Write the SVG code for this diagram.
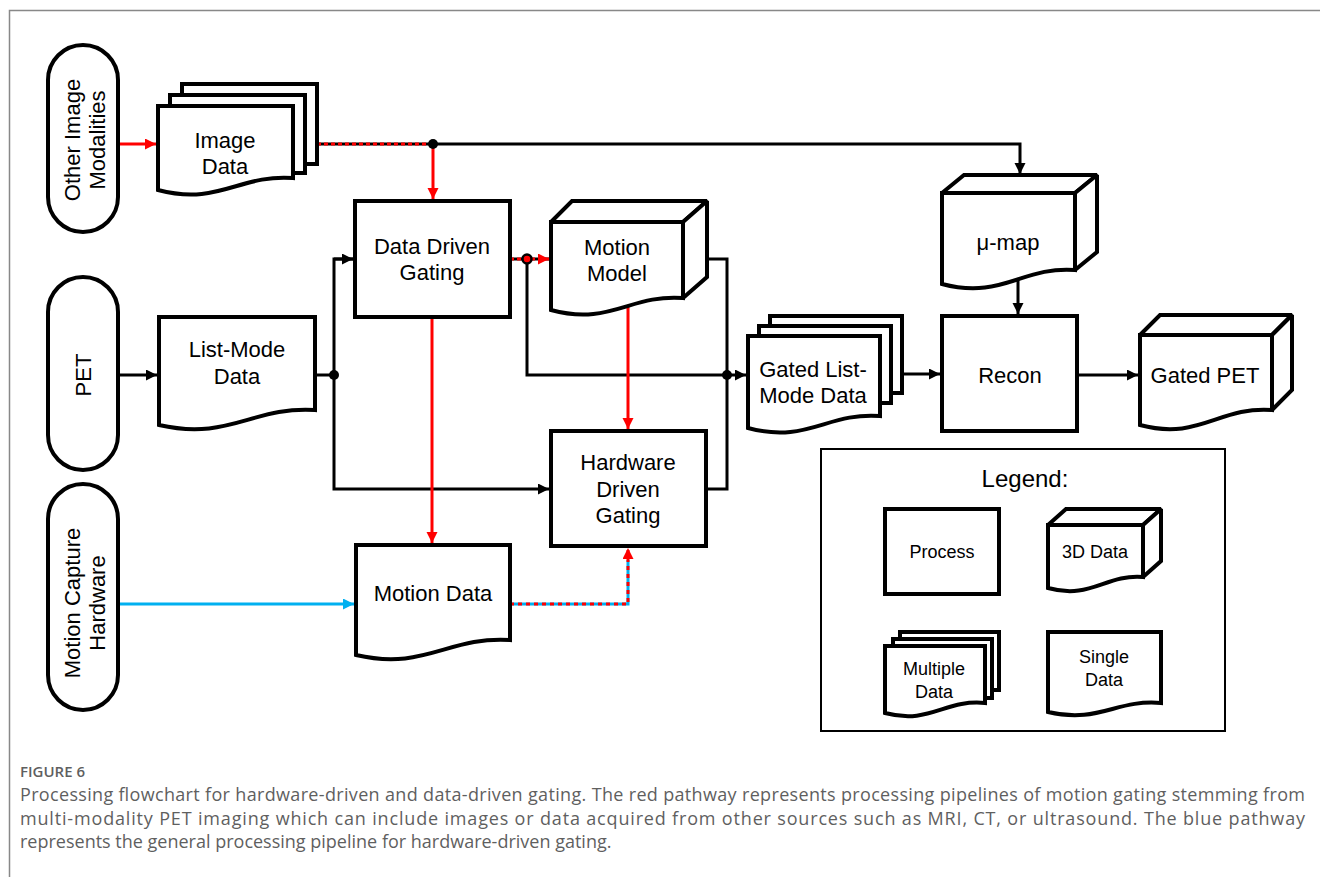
<svg xmlns="http://www.w3.org/2000/svg" width="1320" height="877" viewBox="0 0 1320 877">
<style>
.nd{fill:#fff;stroke:#000;stroke-width:4;stroke-linejoin:miter;stroke-miterlimit:2}
.t{font-family:"Liberation Sans",Arial,sans-serif;font-size:22px;fill:#000;text-anchor:middle}
.ts{font-family:"Liberation Sans",Arial,sans-serif;font-size:18px;fill:#000;text-anchor:middle}
.c{fill:none;stroke-width:3}
.k{stroke:#000}
.r{stroke:#ff0000}
.b{stroke:#00b0f0}
.rd{stroke:#ff0000;stroke-dasharray:4 3}
.cap{font-family:"Open Sans","Liberation Sans",sans-serif;font-size:18px;fill:#5f5f5f}
</style>
<defs>
<marker id="ak" markerUnits="userSpaceOnUse" markerWidth="12" markerHeight="12" refX="11" refY="5.5" orient="auto"><path d="M0,0 L11,5.5 L0,11 Z" fill="#000"/></marker>
<marker id="ar" markerUnits="userSpaceOnUse" markerWidth="12" markerHeight="12" refX="11" refY="5.5" orient="auto"><path d="M0,0 L11,5.5 L0,11 Z" fill="#ff0000"/></marker>
<marker id="ab" markerUnits="userSpaceOnUse" markerWidth="12" markerHeight="12" refX="11" refY="5.5" orient="auto"><path d="M0,0 L11,5.5 L0,11 Z" fill="#00b0f0"/></marker>
</defs>
<rect width="1320" height="877" fill="#fff"/>
<path d="M9.5,877 V10.5 H1320" fill="none" stroke="#888" stroke-width="1.5"/>

<g id="connectors">
<line class="c r" x1="118" y1="144" x2="156" y2="144" marker-end="url(#ar)"/>
<line class="c k" x1="317" y1="144" x2="433" y2="144"/>
<line class="c rd" x1="317" y1="144" x2="433" y2="144"/>
<path class="c k" d="M433,144 H1020 V174" marker-end="url(#ak)"/>
<line class="c r" x1="433" y1="144" x2="433" y2="199" marker-end="url(#ar)"/>
<line class="c k" x1="118" y1="375" x2="157" y2="375" marker-end="url(#ak)"/>
<line class="c k" x1="315" y1="375" x2="334" y2="375"/>
<path class="c k" d="M353,259 H334 V489 H549" marker-end="url(#ak)"/>
<line class="c k" x1="334" y1="259" x2="353" y2="259" marker-end="url(#ak)"/>
<line class="c k" x1="510" y1="259" x2="549" y2="259"/>
<line class="c rd" x1="510" y1="259" x2="549" y2="259" marker-end="url(#ar)"/>
<path class="c k" d="M527,259 V375 H746" marker-end="url(#ak)"/>
<path class="c k" d="M706,489 H727 V259 H707"/>
<line class="c k" x1="902" y1="374" x2="940" y2="374" marker-end="url(#ak)"/>
<line class="c k" x1="1077" y1="375" x2="1138" y2="375" marker-end="url(#ak)"/>
<line class="c k" x1="1018" y1="278" x2="1018" y2="314" marker-end="url(#ak)"/>
<line class="c r" x1="432" y1="317" x2="432" y2="543" marker-end="url(#ar)"/>
<line class="c r" x1="628" y1="303" x2="628" y2="429" marker-end="url(#ar)"/>
<line class="c b" x1="118" y1="604" x2="354" y2="604" marker-end="url(#ab)"/>
<path class="c b" d="M510,604 H628 V560"/>
<path class="c" d="M510,604 H628 V548" stroke="#ff0000" stroke-dasharray="4 4" marker-end="url(#ar)"/>
<circle cx="433" cy="144" r="5" fill="#000"/>
<circle cx="334" cy="375" r="5" fill="#000"/>
<circle cx="727" cy="375" r="5" fill="#000"/>
<circle cx="527" cy="259" r="4.5" fill="#ff0000" stroke="#000" stroke-width="2.5"/>
</g>

<g id="other-image-modalities">
<rect class="nd" x="48" y="45" width="70" height="187" rx="35"/>
<g transform="translate(83,140) rotate(-90)"><text class="t" x="0" y="-3">Other Image</text><text class="t" x="0" y="22">Modalities</text></g>
</g>

<g id="pet">
<rect class="nd" x="48" y="277" width="70" height="193" rx="35"/>
<g transform="translate(83,375) rotate(-90)"><text class="t" x="0" y="8">PET</text></g>
</g>

<g id="motion-capture-hardware">
<rect class="nd" x="48" y="484" width="70" height="226" rx="35"/>
<g transform="translate(83,603) rotate(-90)"><text class="t" x="0" y="-3">Motion Capture</text><text class="t" x="0" y="22">Hardware</text></g>
</g>

<g id="image-data">
<rect class="nd" x="182" y="84" width="135" height="80"/>
<rect class="nd" x="170" y="95" width="135" height="78"/>
<path class="nd" d="M158,190 V106 H293 V178 C239,174 219,206 158,190 Z"/>
<text class="t" x="225" y="148">Image</text>
<text class="t" x="225" y="174">Data</text>
</g>

<g id="list-mode-data">
<path class="nd" d="M159,425 V317 H315 V410 C253,406 229,441 159,425 Z"/>
<text class="t" x="237" y="357">List-Mode</text>
<text class="t" x="237" y="384">Data</text>
</g>

<g id="data-driven-gating">
<rect class="nd" x="355" y="201" width="155" height="116"/>
<text class="t" x="432" y="254">Data Driven</text>
<text class="t" x="432" y="280">Gating</text>
</g>

<g id="motion-model">
<path class="nd" d="M551,222 L572,201 H707 L683,222 Z"/>
<path class="nd" d="M683,222 L707,201 V277 L683,298 Z"/>
<path class="nd" d="M551,310 V222 H683 V298 C630,294 610,326 551,310 Z"/>
<text class="t" x="617" y="255">Motion</text>
<text class="t" x="617" y="281">Model</text>
</g>

<g id="hardware-driven-gating">
<rect class="nd" x="551" y="431" width="155" height="115"/>
<text class="t" x="628" y="470">Hardware</text>
<text class="t" x="628" y="497">Driven</text>
<text class="t" x="628" y="523">Gating</text>
</g>

<g id="motion-data">
<path class="nd" d="M356,655 V545 H510 V640 C448,636 425,671 356,655 Z"/>
<text class="t" x="433" y="601">Motion Data</text>
</g>

<g id="gated-list-mode-data">
<rect class="nd" x="770" y="316" width="132" height="77"/>
<rect class="nd" x="759" y="326" width="132" height="77"/>
<path class="nd" d="M748,428 V336 H880 V416 C827,412 807,444 748,428 Z"/>
<text class="t" x="813" y="377">Gated List-</text>
<text class="t" x="813" y="403">Mode Data</text>
</g>

<g id="mu-map">
<path class="nd" d="M942,193 L964,175 H1097 L1075,193 Z"/>
<path class="nd" d="M1075,193 L1097,175 V252 L1075,270 Z"/>
<path class="nd" d="M942,284 V193 H1075 V270 C1022,266 1002,300 942,284 Z"/>
<text class="t" x="1008" y="250">μ-map</text>
</g>

<g id="recon">
<rect class="nd" x="942" y="316" width="135" height="115"/>
<text class="t" x="1010" y="383">Recon</text>
</g>

<g id="gated-pet">
<path class="nd" d="M1140,335 L1160,315 H1292 L1272,335 Z"/>
<path class="nd" d="M1272,335 L1292,315 V390 L1272,410 Z"/>
<path class="nd" d="M1140,425 V335 H1272 V410 C1219,406 1199,441 1140,425 Z"/>
<text class="t" x="1205" y="383">Gated PET</text>
</g>

<g id="legend">
<rect x="821" y="449" width="404" height="282" fill="#fff" stroke="#000" stroke-width="2"/>
<text class="t" x="1025" y="487" style="font-size:24px">Legend:</text>
<rect class="nd" x="885" y="509" width="114" height="85"/>
<text class="ts" x="942" y="558">Process</text>
<path class="nd" d="M1048,525 L1066,509 H1161 L1143,525 Z"/>
<path class="nd" d="M1143,525 L1161,509 V561 L1143,577 Z"/>
<path class="nd" d="M1048,588 V525 H1143 V577 C1105,574 1091,600 1048,588 Z"/>
<text class="ts" x="1095" y="558">3D Data</text>
<rect class="nd" x="900" y="632" width="99" height="58"/>
<rect class="nd" x="893" y="639" width="99" height="59"/>
<path class="nd" d="M885,713 V646 H985 V703 C945,699 930,725 885,713 Z"/>
<text class="ts" x="934" y="675">Multiple</text>
<text class="ts" x="934" y="698">Data</text>
<path class="nd" d="M1048,712 V632 H1161 V703 C1116,699 1099,724 1048,712 Z"/>
<text class="ts" x="1104" y="663">Single</text>
<text class="ts" x="1104" y="686">Data</text>
</g>

<g id="caption">
<text class="cap" x="20" y="777" style="font-size:15px;font-weight:600">FIGURE 6</text>
<text class="cap" x="20" y="801" textLength="1285" lengthAdjust="spacing">Processing flowchart for hardware-driven and data-driven gating. The red pathway represents processing pipelines of motion gating stemming from</text>
<text class="cap" x="20" y="825" textLength="1285" lengthAdjust="spacing">multi-modality PET imaging which can include images or data acquired from other sources such as MRI, CT, or ultrasound. The blue pathway</text>
<text class="cap" x="20" y="848">represents the general processing pipeline for hardware-driven gating.</text>
</g>
</svg>
